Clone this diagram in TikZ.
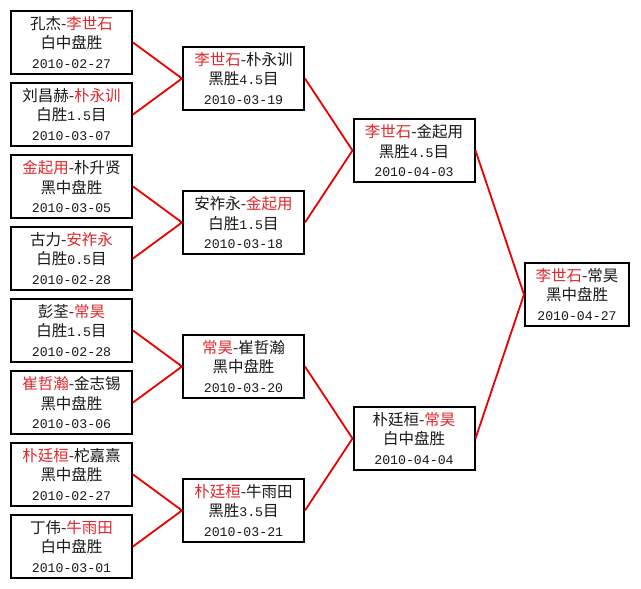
\documentclass[tikz,border=0pt]{standalone}
\usepackage{fontspec}
\newfontfamily\cjk{Noto Sans CJK SC}
\newfontfamily\latfont{Liberation Mono}
\definecolor{win}{RGB}{225,40,45}
\definecolor{linkred}{RGB}{235,0,0}
\newcommand{\Wn}[1]{\textcolor{win}{#1}}
\newcommand{\Lt}[1]{{\latfont\fontsize{13.2}{19.5}\selectfont #1}}
\tikzset{
  game/.style={draw=black, line width=2pt, fill=white, minimum height=63pt,
    inner sep=0pt, align=center, font=\cjk\fontsize{15.5}{19.5}\selectfont, text=black!90},
  g1/.style={game, minimum width=121pt},
  g4/.style={game, minimum width=104pt},
  linkline/.style={draw=linkred, line width=1.8pt}
}
\begin{document}
\begin{tikzpicture}[x=1pt,y=-1pt]
\useasboundingbox[fill=white] (0,0) rectangle (641,589);
% round 1
\node[g1] (a1) at (71.5,42.5) {孔杰-\Wn{李世石}\\白中盘胜\\\Lt{2010-02-27}};
\node[g1] (a2) at (71.5,114.5) {刘昌赫-\Wn{朴永训}\\白胜\Lt{1.5}目\\\Lt{2010-03-07}};
\node[g1] (a3) at (71.5,186.5) {\Wn{金起用}-朴升贤\\黑中盘胜\\\Lt{2010-03-05}};
\node[g1] (a4) at (71.5,258.5) {古力-\Wn{安祚永}\\白胜\Lt{0.5}目\\\Lt{2010-02-28}};
\node[g1] (a5) at (71.5,330.5) {彭荃-\Wn{常昊}\\白胜\Lt{1.5}目\\\Lt{2010-02-28}};
\node[g1] (a6) at (71.5,402.5) {\Wn{崔哲瀚}-金志锡\\黑中盘胜\\\Lt{2010-03-06}};
\node[g1] (a7) at (71.5,474.5) {\Wn{朴廷桓}-柁嘉熹\\黑中盘胜\\\Lt{2010-02-27}};
\node[g1] (a8) at (71.5,546.5) {丁伟-\Wn{牛雨田}\\白中盘胜\\\Lt{2010-03-01}};
% round 2
\node[g1] (b1) at (243.5,78.5) {\Wn{李世石}-朴永训\\黑胜\Lt{4.5}目\\\Lt{2010-03-19}};
\node[g1] (b2) at (243.5,222.5) {安祚永-\Wn{金起用}\\白胜\Lt{1.5}目\\\Lt{2010-03-18}};
\node[g1] (b3) at (243.5,366.5) {\Wn{常昊}-崔哲瀚\\黑中盘胜\\\Lt{2010-03-20}};
\node[g1] (b4) at (243.5,510.5) {\Wn{朴廷桓}-牛雨田\\黑胜\Lt{3.5}目\\\Lt{2010-03-21}};
% round 3
\node[g1] (c1) at (414,150.5) {\Wn{李世石}-金起用\\黑胜\Lt{4.5}目\\\Lt{2010-04-03}};
\node[g1] (c2) at (414,438.5) {朴廷桓-\Wn{常昊}\\白中盘胜\\\Lt{2010-04-04}};
% final
\node[g4] (d1) at (577,294.5) {\Wn{李世石}-常昊\\黑中盘胜\\\Lt{2010-04-27}};
% connectors
\draw[linkline] (a1.east) -- (b1.west) -- (a2.east);
\draw[linkline] (a3.east) -- (b2.west) -- (a4.east);
\draw[linkline] (a5.east) -- (b3.west) -- (a6.east);
\draw[linkline] (a7.east) -- (b4.west) -- (a8.east);
\draw[linkline] (b1.east) -- (c1.west) -- (b2.east);
\draw[linkline] (b3.east) -- (c2.west) -- (b4.east);
\draw[linkline] (c1.east) -- (d1.west) -- (c2.east);
\end{tikzpicture}
\end{document}
